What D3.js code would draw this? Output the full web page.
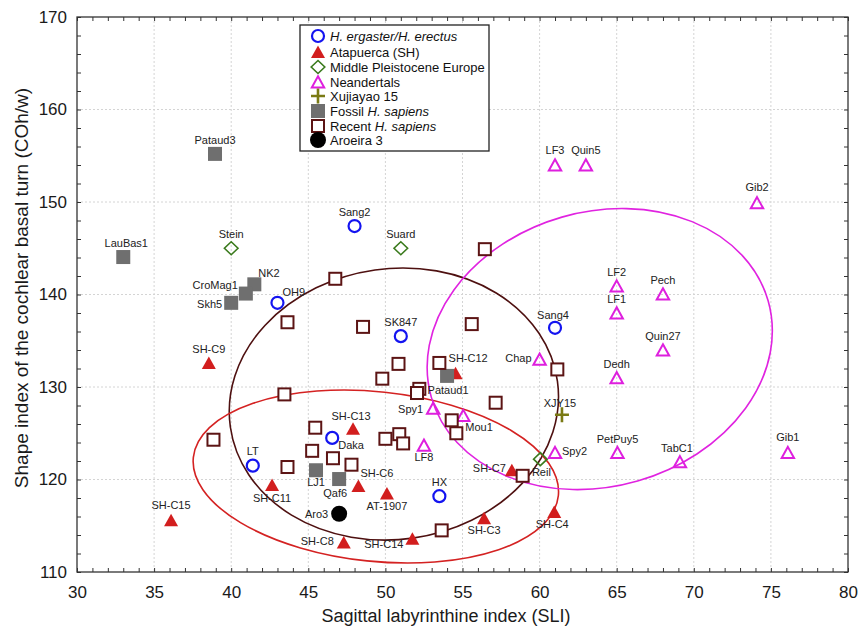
<!DOCTYPE html>
<html><head><meta charset="utf-8">
<script src="https://cdn.jsdelivr.net/npm/d3@7"></script>
<style>
body{margin:0;background:#fff}
text{font-family:Arial,"Liberation Sans",Helvetica,sans-serif}
</style>
</head><body>
<svg id="chart" width="859" height="633"></svg>
<script>
// ---------------- DATA ----------------
const xTickValues = [30,35,40,45,50,55,60,65,70,75,80];
const yTickValues = [110,120,130,140,150,160,170];

const erectusNames = ["Sang2","OH9","SK847","Sang4","LT","Daka","HX"];
const erectusSLI   = [48.0, 43.0, 51.0, 61.0, 41.4, 46.55, 53.5];
const erectusCOh   = [147.4,139.1,135.5,136.4,121.5,124.5,118.2];

const shNames = ["SH-C9","SH-C15","SH-C11","SH-C13","SH-C6","AT-1907","SH-C8","SH-C14","SH-C3","SH-C4","SH-C7","SH-C12"];
const shSLI   = [38.55, 36.1, 42.65, 47.9, 48.25, 50.1, 47.3, 51.75, 56.4, 60.95, 58.2, 54.55];
const shCOh   = [132.6, 115.6, 119.4, 125.5, 119.3, 118.5, 113.2, 113.6, 115.8, 116.5, 121.0, 131.5];

const mpeNames = ["Stein","Suard","Reil"];
const mpeSLI   = [40.0, 51.0, 60.05];
const mpeCOh   = [145.0, 145.0, 122.2];

const neanNames = ["LF3","Quin5","Gib2","LF2","Pech","LF1","Quin27","Chap","Dedh","Spy1","Mou1","LF8","Spy2","PetPuy5","TabC1","Gib1"];
const neanSLI   = [61.0, 63.0, 74.1, 65.0, 68.0, 65.0, 68.0, 60.0, 65.0, 53.1, 55.05, 52.5, 61.0, 65.05, 69.1, 76.1];
const neanCOh   = [154.0,154.0,149.9,140.9,140.05,138.0,134.0,133.0,131.0,127.7,126.9,123.7,122.9,122.9,121.9,122.9];

const xjyNames = ["XJY15"];
const xjySLI   = [61.45];
const xjyCOh   = [127.0];

const fossilNames = ["Pataud3","LauBas1","NK2","CroMag1","Skh5","Pataud1","LJ1","Qaf6"];
const fossilSLI   = [38.95, 33.0, 41.5, 40.95, 40.0, 54.0, 45.5, 47.0];
const fossilCOh   = [155.2, 144.05, 141.1, 140.1, 139.1, 131.2, 121.0, 120.05];

const recentSLI = [38.85,46.75,56.45,43.65,48.55,55.6,43.45,50.85,49.8,53.5,61.15,52.2,52.05,57.15,45.45,54.3,54.6,50.0,50.9,51.15,45.25,46.6,47.8,43.65,53.65,58.9];
const recentCOh = [124.3,141.7,144.9,137.0,136.5,136.8,129.2,132.5,130.9,132.6,131.9,129.8,129.35,128.3,125.6,126.4,125.0,124.4,124.9,123.9,123.1,122.3,121.6,121.35,114.5,120.4];

const aroNames = ["Aro3"];
const aroSLI   = [47.0];
const aroCOh   = [116.3];

// confidence ellipses (centre in data units, semi-axes in axis units, tilt in degrees)
const ellipseGroups = ["Recent H. sapiens","Atapuerca (SH)","Neandertals"];
const ellipseCx = [50.55, 49.38, 63.9];
const ellipseCy = [128.16, 120.32, 134.1];
const ellipseRx = [10.71, 11.9, 11.36];
const ellipseRy = [14.64, 9.17, 14.84];
const ellipseTilt = [-8, 6, -16];

const legendLabels = ["H. ergaster/H. erectus","Atapuerca (SH)","Middle Pleistocene Europe","Neandertals","Xujiayao 15","Fossil H. sapiens","Recent H. sapiens","Aroeira 3"];

// ---------------- LAYOUT ----------------
const svg = d3.select("#chart");
const L=77, R=848, T=17, B=572;
const x = d3.scaleLinear().domain([30,80]).range([L,R]);
const y = d3.scaleLinear().domain([110,170]).range([B,T]);

const C = {
  blue:"#1414f0", red:"#d21e1e", green:"#3a7a1c", mag:"#de1fde",
  olive:"#7a7a14", gray:"#6f6f6f", recent:"#5c1414", black:"#000",
  ellBrown:"#4e1010", ellRed:"#d42222", ellMag:"#e023e0"
};

// grid
const grid = svg.append("g");
grid.selectAll("line.gx").data(xTickValues.filter(v=>v>30&&v<80)).join("line")
  .attr("x1",d=>x(d)).attr("x2",d=>x(d)).attr("y1",T).attr("y2",B)
  .attr("stroke","#d4d4d4").attr("stroke-width",1).attr("stroke-dasharray","2,2");
grid.selectAll("line.gy").data(yTickValues.filter(v=>v>110&&v<170)).join("line")
  .attr("y1",d=>y(d)).attr("y2",d=>y(d)).attr("x1",L).attr("x2",R)
  .attr("stroke","#d4d4d4").attr("stroke-width",1).attr("stroke-dasharray","2,2");

// axes
const fmtX = d => (d%5===0 ? d : "");
const fmtY = d => (d%10===0 ? d : "");
const gxB = svg.append("g").attr("transform",`translate(0,${B})`)
  .call(d3.axisBottom(x).tickValues(d3.range(30,81,1)).tickSize(-4).tickPadding(14).tickFormat(fmtX));
const gxT = svg.append("g").attr("transform",`translate(0,${T})`)
  .call(d3.axisTop(x).tickValues(d3.range(30,81,1)).tickSize(-4).tickFormat(""));
const gyL = svg.append("g").attr("transform",`translate(${L},0)`)
  .call(d3.axisLeft(y).tickValues(d3.range(110,171,2)).tickSize(-4).tickPadding(10).tickFormat(fmtY));
const gyR = svg.append("g").attr("transform",`translate(${R},0)`)
  .call(d3.axisRight(y).tickValues(d3.range(110,171,2)).tickSize(-4).tickFormat(""));
[gxB,gxT,gyL,gyR].forEach(g=>{
  g.select(".domain").remove();
  g.selectAll(".tick line").attr("stroke","#333").attr("stroke-width",1);
  g.selectAll(".tick text").attr("font-size",17).attr("fill","#1a1a1a").attr("font-family","Arial, 'Liberation Sans', sans-serif");
});
svg.append("rect").attr("x",L).attr("y",T).attr("width",R-L).attr("height",B-T)
  .attr("fill","none").attr("stroke","#333").attr("stroke-width",1.3);

// axis titles
svg.append("text").attr("x",446).attr("y",622).attr("text-anchor","middle")
  .attr("font-size",18).attr("fill","#1a1a1a").text("Sagittal labyrinthine index (SLI)");
svg.append("text").attr("transform","translate(28,288) rotate(-90)").attr("text-anchor","middle")
  .attr("font-size",19).attr("fill","#1a1a1a").text("Shape index of the cochlear basal turn (COh/w)");

// ellipses
const ellColors = [C.ellBrown, C.ellRed, C.ellMag];
const pxX = x(1)-x(0), pxY = y(0)-y(1);
svg.append("g").selectAll("ellipse").data(ellipseGroups).join("ellipse")
  .attr("transform",(d,i)=>`translate(${x(ellipseCx[i])},${y(ellipseCy[i])}) rotate(${ellipseTilt[i]})`)
  .attr("rx",(d,i)=>ellipseRx[i]*pxX).attr("ry",(d,i)=>ellipseRy[i]*pxY)
  .attr("fill","none").attr("stroke",(d,i)=>ellColors[i]).attr("stroke-width",1.6);

// marker drawing helpers
function drawMarker(g, kind){
  switch(kind){
    case "circle": g.append("circle").attr("r",6).attr("fill","none").attr("stroke",C.blue).attr("stroke-width",2.2); break;
    case "tri": g.append("path").attr("d","M0,-6.5L7,6L-7,6Z").attr("fill",C.red); break;
    case "diamond": g.append("path").attr("d","M0,-6.5L6.8,0L0,6.5L-6.8,0Z").attr("fill","none").attr("stroke",C.green).attr("stroke-width",1.6); break;
    case "otri": g.append("path").attr("d","M0,-5.8L6.2,5.4L-6.2,5.4Z").attr("fill","none").attr("stroke",C.mag).attr("stroke-width",2); break;
    case "plus": g.append("path").attr("d","M-7,0H7M0,-7.5V7.5").attr("stroke",C.olive).attr("stroke-width",2.6); break;
    case "gsq": g.append("rect").attr("x",-7).attr("y",-7).attr("width",14).attr("height",14).attr("fill",C.gray); break;
    case "osq": g.append("rect").attr("x",-6).attr("y",-6).attr("width",12).attr("height",12).attr("fill","#fff").attr("stroke",C.recent).attr("stroke-width",2); break;
    case "dot": g.append("circle").attr("r",8).attr("fill",C.black); break;
  }
}

const series = [
  {kind:"circle", names:erectusNames, xs:erectusSLI, ys:erectusCOh},
  {kind:"tri", names:shNames, xs:shSLI, ys:shCOh},
  {kind:"diamond", names:mpeNames, xs:mpeSLI, ys:mpeCOh},
  {kind:"otri", names:neanNames, xs:neanSLI, ys:neanCOh},
  {kind:"plus", names:xjyNames, xs:xjySLI, ys:xjyCOh},
  {kind:"gsq", names:fossilNames, xs:fossilSLI, ys:fossilCOh},
  {kind:"osq", names:recentSLI.map(()=>null), xs:recentSLI, ys:recentCOh},
  {kind:"dot", names:aroNames, xs:aroSLI, ys:aroCOh}
];

const pts = svg.append("g");
series.forEach(s=>{
  s.xs.forEach((v,i)=>{
    const g = pts.append("g").attr("transform",`translate(${x(v)},${y(s.ys[i])})`);
    drawMarker(g, s.kind);
  });
});

// label placement (pixel offsets from marker, anchor)
const labelPlace = {
  "OH9":[5,-11,"start"], "Daka":[6,7,"start"], "SH-C11":[0,13,"middle"], "AT-1907":[0,13,"middle"],
  "SH-C6":[2,-13,"start"], "SH-C8":[-10,-1,"end"], "SH-C14":[-9,5,"end"], "SH-C3":[0,12,"middle"],
  "SH-C4":[-2,12,"middle"], "SH-C7":[-6,-2,"end"], "SH-C12":[-7,-15,"start"], "Reil":[1,13,"middle"],
  "Chap":[-8,-1,"end"], "Spy1":[-10,1,"end"], "Mou1":[2,11,"start"], "LF8":[0,12,"middle"],
  "Spy2":[7,-2,"start"], "XJY15":[-2,-12,"middle"], "TabC1":[-3,-14,"middle"], "Gib1":[0,-16,"middle"],
  "Gib2":[0,-16,"middle"], "LF3":[0,-15,"middle"], "Quin5":[0,-15,"middle"], "LauBas1":[3,-14,"middle"],
  "NK2":[4,-11,"start"], "CroMag1":[-8,-8,"end"], "Skh5":[-9,1,"end"], "Pataud1":[1,14,"middle"],
  "LJ1":[0,12,"middle"], "Qaf6":[-4,14,"middle"], "Aro3":[-11,0,"end"], "SH-C13":[-2,-12,"middle"],
  "Sang4":[-2,-13,"middle"], "SH-C15":[0,-15,"middle"]
};
const labs = svg.append("g");
series.forEach(s=>{
  s.names.forEach((n,i)=>{
    if(!n) return;
    const p = labelPlace[n] || [0,-14,"middle"];
    labs.append("text").attr("x",x(s.xs[i])+p[0]).attr("y",y(s.ys[i])+p[1]).attr("dy","0.35em")
      .attr("text-anchor",p[2]).attr("font-size",11).attr("fill","#222").text(n);
  });
});

// legend
const lg = svg.append("g");
lg.append("rect").attr("x",300).attr("y",25).attr("width",189).attr("height",126)
  .attr("fill","#fff").attr("stroke","#222").attr("stroke-width",1.3);
const legendKinds = ["circle","tri","diamond","otri","plus","gsq","osq","dot"];
const legendRowY = [36,52,67,82,96,111,126,140];
legendLabels.forEach((lab,i)=>{
  const g = lg.append("g").attr("transform",`translate(318,${legendRowY[i]})`);
  drawMarker(g, legendKinds[i]);
  const t = lg.append("text").attr("x",330).attr("y",legendRowY[i]).attr("dy","0.36em")
    .attr("font-size",13).attr("fill","#111");
  if(i===0){ t.append("tspan").attr("font-style","italic").text(lab); }
  else if(lab.indexOf("H. sapiens")>0){
    t.append("tspan").text(lab.replace("H. sapiens",""));
    t.append("tspan").attr("font-style","italic").text("H. sapiens");
  } else t.text(lab);
});
</script>
</body></html>
